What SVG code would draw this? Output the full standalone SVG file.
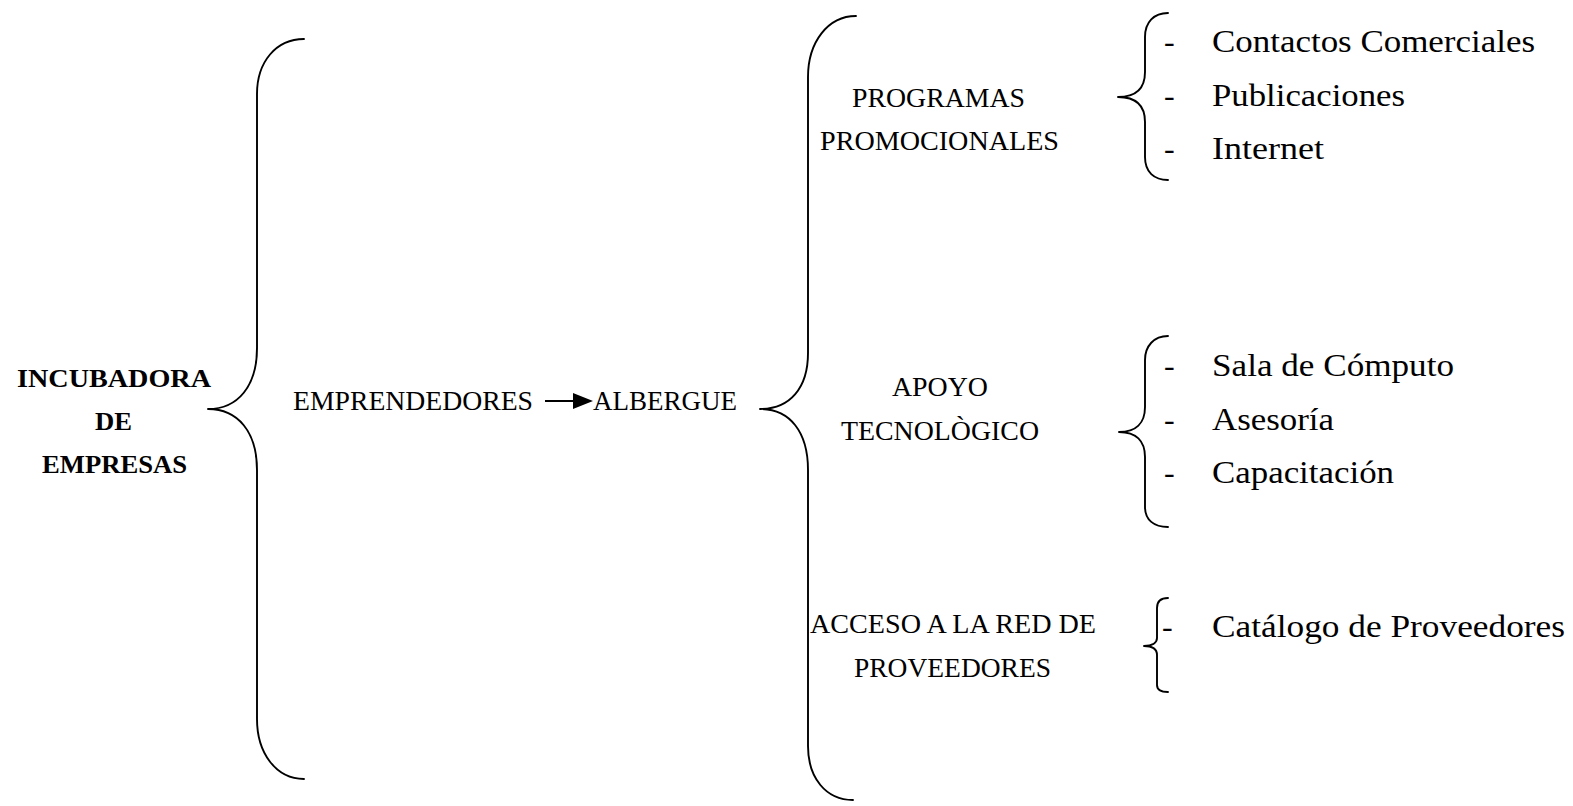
<svg xmlns="http://www.w3.org/2000/svg" width="1573" height="806" viewBox="0 0 1573 806">
  <style>
    text { font-family: "Liberation Serif", "Times New Roman", serif; fill: #000; }
    .root { font-size: 26px; font-weight: bold; }
    .cap { font-size: 27px; }
    .item { font-size: 32px; }
    .brace { fill: none; stroke: #000; stroke-width: 1.9; stroke-linecap: round; stroke-linejoin: round; }
    .link { fill: none; stroke: #000; stroke-width: 2; }
  </style>
  <defs>
    <marker id="arrowhead" viewBox="0 0 20 16" refX="0" refY="8" markerWidth="20" markerHeight="16" markerUnits="userSpaceOnUse" orient="auto">
      <path d="M0,0 L20,8 L0,16 Z" fill="#000"/>
    </marker>
  </defs>
  <rect width="1573" height="806" fill="#fff"/>

  <!-- braces and arrow linking the levels -->
  <g id="connectors">
    <path class="brace" d="M304,39 C276,39 257,62 257,94 L257,348 C257,386 238,409 208,409 C238,409 257,432 257,470 L257,719 C257,753 276,779 304,779"/>
    <path class="brace" d="M856,16 C828,16 808,42 808,77 L808,353 C808,388 790,409 760,409 C790,409 808,432 808,470 L808,746 C808,778 826,800 853,800"/>
    <path class="brace" d="M1168,13 C1154,13 1145,22 1145,37 L1145,72 C1145,88 1136,97 1118,97 C1136,97 1145,106 1145,122 L1145,157 C1145,172 1154,180 1168,180"/>
    <path class="brace" d="M1168,336 C1154,336 1145,346 1145,360 L1145,407 C1145,423 1136,432 1119,432 C1136,432 1145,441 1145,457 L1145,507 C1145,520 1154,527 1168,527"/>
    <path class="brace" d="M1168,598 C1161,598 1157,601 1157,608 L1157,638 C1157,643 1152,646 1144,646 C1152,646 1157,649 1157,655 L1157,685 C1157,690 1161,692 1168,692"/>
    <path class="link" d="M545,401 L573,401" marker-end="url(#arrowhead)"/>
  </g>

  <g id="n-incubadora">
    <text class="root" x="17" y="387" textLength="194" lengthAdjust="spacingAndGlyphs">INCUBADORA</text>
    <text class="root" x="95" y="430" textLength="37" lengthAdjust="spacingAndGlyphs">DE</text>
    <text class="root" x="42" y="473" textLength="145" lengthAdjust="spacingAndGlyphs">EMPRESAS</text>
  </g>

  <g id="n-emprendedores">
    <text class="cap" x="293" y="410" textLength="240" lengthAdjust="spacingAndGlyphs">EMPRENDEDORES</text>
  </g>

  <g id="n-albergue">
    <text class="cap" x="593" y="410" textLength="144" lengthAdjust="spacingAndGlyphs">ALBERGUE</text>
  </g>

  <g id="n-programas">
    <text class="cap" x="852" y="107" textLength="173" lengthAdjust="spacingAndGlyphs">PROGRAMAS</text>
    <text class="cap" x="820" y="150" textLength="239" lengthAdjust="spacingAndGlyphs">PROMOCIONALES</text>
  </g>

  <g id="n-apoyo">
    <text class="cap" x="892" y="396" textLength="96" lengthAdjust="spacingAndGlyphs">APOYO</text>
    <text class="cap" x="841" y="440" textLength="198" lengthAdjust="spacingAndGlyphs">TECNOLÒGICO</text>
  </g>

  <g id="n-acceso">
    <text class="cap" x="810" y="633" textLength="286" lengthAdjust="spacingAndGlyphs">ACCESO A LA RED DE</text>
    <text class="cap" x="854" y="677" textLength="197" lengthAdjust="spacingAndGlyphs">PROVEEDORES</text>
  </g>

  <g id="n-promocion-items">
    <text class="item" x="1164" y="52">-</text>
    <text class="item" x="1212" y="52" textLength="323" lengthAdjust="spacingAndGlyphs">Contactos Comerciales</text>
    <text class="item" x="1164" y="106">-</text>
    <text class="item" x="1212" y="106" textLength="193" lengthAdjust="spacingAndGlyphs">Publicaciones</text>
    <text class="item" x="1164" y="159">-</text>
    <text class="item" x="1212" y="159" textLength="112" lengthAdjust="spacingAndGlyphs">Internet</text>
  </g>

  <g id="n-tecnologia-items">
    <text class="item" x="1164" y="376">-</text>
    <text class="item" x="1212" y="376" textLength="242" lengthAdjust="spacingAndGlyphs">Sala de Cómputo</text>
    <text class="item" x="1164" y="430">-</text>
    <text class="item" x="1212" y="430" textLength="122" lengthAdjust="spacingAndGlyphs">Asesoría</text>
    <text class="item" x="1164" y="483">-</text>
    <text class="item" x="1212" y="483" textLength="182" lengthAdjust="spacingAndGlyphs">Capacitación</text>
  </g>

  <g id="n-proveedores-items">
    <text class="item" x="1162" y="637">-</text>
    <text class="item" x="1212" y="637" textLength="353" lengthAdjust="spacingAndGlyphs">Catálogo de Proveedores</text>
  </g>
</svg>
